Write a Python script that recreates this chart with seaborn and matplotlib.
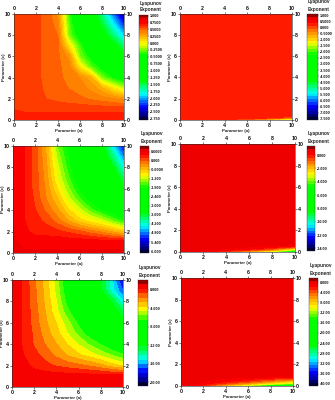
import numpy as np
import matplotlib
matplotlib.use("Agg")
import matplotlib.pyplot as plt
import seaborn as sns
from matplotlib.cm import ScalarMappable
from matplotlib.colors import LinearSegmentedColormap, BoundaryNorm

sns.set_theme(style="ticks")
plt.rcParams["font.family"] = ["Liberation Sans", "DejaVu Sans"]

W, H = 335, 400
A_LEFT = [0, 1, 2, 3, 4, 5, 6, 7, 8, 9, 10]
C_LEFT = [0, 1, 2, 3, 4, 5, 6, 7, 8, 9, 10]
A_RIGHT = [0, 1, 2, 4, 6, 8, 10]
C_RIGHT = [0, 0.1, 0.2, 0.3, 0.4, 0.6, 0.8, 1, 10]

Z1 = [
    [.68, .68, .68, .68, .68, .68, .68, .68, .68, .68, .68],
    [.62, .60, .60, .60, .60, .60, .60, .60, .60, .60, .60],
    [.60, .58, .56, .54, .52, .50, .48, .45, .42, .39, .35],
    [.60, .58, .56, .53, .50, .46, .42, .36, .25, .05, -.15],
    [.60, .58, .56, .52, .48, .44, .38, .25, -.25, -.45, -.60],
    [.60, .58, .56, .52, .48, .42, .05, -.30, -.50, -.75, -1.0],
    [.60, .58, .56, .52, .48, .35, -.25, -.50, -.80, -1.05, -1.3],
    [.60, .58, .56, .52, .48, .05, -.35, -.70, -1.0, -1.3, -1.6],
    [.60, .58, .56, .52, .46, -.25, -.55, -.90, -1.25, -1.6, -1.95],
    [.60, .58, .56, .52, .42, -.30, -.70, -1.05, -1.45, -1.85, -2.25],
    [.60, .58, .56, .52, .35, -.35, -.80, -1.20, -1.65, -2.1, -2.6],
]
Z3 = [
    [.6, .6, .6, .6, .6, .6, .6, .6, .6, .6, .6],
    [.6, .55, .55, .55, .55, .55, .55, .55, .55, .55, .55],
    [.6, .45, .3, .28, .25, .15, .05, -.1, -.25, -.45, -.65],
    [.6, .4, .25, .15, -.1, -.4, -.7, -.9, -1.1, -1.4, -1.7],
    [.6, .4, .2, -.05, -.35, -.75, -1.1, -1.5, -1.8, -2.1, -2.4],
    [.6, .4, .15, -.2, -.55, -1.1, -1.55, -1.95, -2.3, -2.65, -3.0],
    [.6, .4, .1, -.25, -.8, -1.35, -1.85, -2.3, -2.7, -3.1, -3.5],
    [.6, .4, .1, -.3, -1.0, -1.55, -2.1, -2.45, -2.7, -3.2, -3.8],
    [.6, .4, .1, -.35, -1.1, -1.7, -2.2, -2.6, -2.9, -3.5, -4.3],
    [.6, .4, .1, -.4, -1.25, -1.8, -2.25, -2.7, -3.2, -3.9, -4.8],
    [.6, .4, .1, -.45, -1.4, -1.9, -2.3, -2.8, -3.3, -4.4, -5.3],
]
Z5 = [
    [.8, .8, .8, .8, .8, .8, .8, .8, .8, .8, .8],
    [.8, .7, .7, .7, .7, .7, .7, .7, .7, .7, .7],
    [.8, .5, -.1, -.5, -.9, -1.2, -1.5, -1.9, -2.4, -3.2, -3.8],
    [.8, .2, -.5, -1.2, -2.0, -2.8, -3.5, -4.1, -4.9, -5.7, -6.4],
    [.8, .05, -.9, -1.8, -2.7, -3.7, -4.7, -5.7, -6.6, -7.6, -8.6],
    [.8, .05, -1.0, -2.2, -3.3, -4.6, -5.9, -7.2, -8.4, -9.4, -10.4],
    [.8, .05, -1.2, -2.5, -3.7, -5.2, -6.8, -8.2, -9.5, -10.7, -11.8],
    [.8, .05, -1.3, -2.7, -4.3, -6.2, -7.8, -9.1, -10.3, -11.5, -12.8],
    [.8, .05, -1.4, -2.9, -4.6, -7.0, -8.6, -10.0, -11.2, -12.4, -15.0],
    [.8, .05, -1.5, -3.0, -4.9, -7.5, -9.2, -10.8, -12.0, -14.6, -17.0],
    [.8, .05, -1.6, -3.1, -5.1, -7.8, -9.6, -11.0, -12.0, -15.0, -18.5],
]
Z2 = [
    [.25, .25, .15, -.3, -1.0, -2.0, -3.0],
    [.3, .3, .3, .25, .1, -.3, -1.2],
    [.3, .3, .3, .3, .25, .15, -.2],
    [.3, .3, .3, .3, .3, .25, .1],
    [.3, .3, .3, .3, .3, .3, .25],
    [.3, .3, .3, .3, .3, .3, .3],
    [.3, .3, .3, .3, .3, .3, .3],
    [.3, .3, .3, .3, .3, .3, .3],
    [.3, .3, .3, .3, .3, .3, .3],
]
Z4 = [
    [.5, .4, .1, -1.2, -2.8, -4.5, -6.5],
    [.6, .6, .5, -.1, -1.0, -2.5, -5.0],
    [.6, .6, .6, .3, -.2, -1.2, -3.6],
    [.6, .6, .6, .5, .2, -.5, -2.5],
    [.6, .6, .6, .6, .4, 0, -1.0],
    [.6, .6, .6, .6, .6, .5, .45],
    [.6, .6, .6, .6, .6, .6, .6],
    [.6, .6, .6, .6, .6, .6, .6],
    [.6, .6, .6, .6, .6, .6, .6],
]
Z6 = [
    [-.5, -1, -3, -9, -15, -20, -24],
    [0, -.7, -2, -6, -10, -14, -17],
    [0, -.2, -1.5, -4, -7, -10.5, -13],
    [0, 0, -1, -2.8, -5, -8, -10.5],
    [0, 0, -.7, -2, -3.5, -6, -9],
    [0, 0, -.4, -1.2, -2, -3.5, -4.9],
    [0, 0, 0, -.5, -.8, -1.2, -1.8],
    [0, 0, 0, 0, 0, 0, 0],
    [0, 0, 0, 0, 0, 0, 0],
]

CB1 = ["1.000", "0.7500", "0.5000", "0.2500", "0.000", "-0.2500", "-0.5000", "-0.7500", "-1.000",
       "-1.250", "-1.500", "-1.750", "-2.000", "-2.250", "-2.500", "-2.750"]
CB2 = ["1.000", "0.5000", "0.000", "-0.5000", "-1.000", "-1.500", "-2.000", "-2.500", "-3.000", "-3.500",
       "-4.000", "-4.500", "-5.000", "-5.500", "-6.000", "-6.500", "-7.000", "-7.500"]
CB3 = ["0.6000", "0.000", "-0.6000", "-1.200", "-1.800", "-2.400", "-3.000", "-3.600", "-4.200", "-4.800",
       "-5.400", "-6.000"]
CB4 = ["0.000", "-2.000", "-4.000", "-6.000", "-8.000", "-10.00", "-12.00", "-14.00"]
CB5 = ["0.000", "-4.000", "-8.000", "-12.00", "-16.00", "-20.00"]
CB6 = ["0.000", "-4.000", "-8.000", "-12.00", "-16.00", "-20.00", "-24.00", "-28.00", "-32.00", "-36.00", "-40.00"]

cmap = LinearSegmentedColormap.from_list("rb", [
    (0, "#000030"), (.05, "#0000a0"), (.12, "#0000ff"), (.24, "#00ffff"), (.34, "#00ff40"), (.37, "#00ff00"),
    (.62, "#00ff00"), (.73, "#ffff00"), (.85, "#ff8000"), (.93, "#ff0000"), (.97, "#f00000"), (1, "#900000")], N=512)

# plot box and bar box in pixels (x0, x1, y0, y1), bar range, number of bands
panels = [
    (A_LEFT, C_LEFT, Z1, (14, 124, 14, 120), (139, 148, 15, 120), (-2.8, 1.02), CB1, 48),
    (A_RIGHT, C_RIGHT, Z2, (180, 292, 13.5, 120), (307, 318, 14, 120), (-7.6, 1.1), CB2, 36),
    (A_LEFT, C_LEFT, Z3, (13, 124, 146, 253), (140, 149, 146, 253), (-6.13, .98), CB3, 36),
    (A_RIGHT, C_RIGHT, Z4, (180, 295, 144, 252), (307, 315, 146, 251), (-14.4, 1.38), CB4, 36),
    (A_LEFT, C_LEFT, Z5, (12, 123, 280, 387), (138, 148, 280, 386), (-20.85, 2.06), CB5, 24),
    (A_RIGHT, C_RIGHT, Z6, (181, 293, 278, 386), (309, 318, 278, 386), (-40.9, 1.6), CB6, 36),
]

fig = plt.figure(figsize=(W / 100, H / 100), dpi=100)


def rect(x0, x1, y0, y1):
    return [x0 / W, 1 - y1 / H, (x1 - x0) / W, (y1 - y0) / H]


for a, c, z, box, bar, rng, labels, nbands in panels:
    ax = fig.add_axes(rect(*box))
    levels = np.linspace(rng[0], rng[1], nbands + 1)
    norm = BoundaryNorm(levels, cmap.N)
    ax.contourf(a, c, np.array(z), levels=levels, cmap=cmap, norm=norm, extend="both")
    ax.set_xlim(0, 10)
    ax.set_ylim(0, 10)
    sns.despine(ax=ax, top=False, right=False)
    ticks = [0, 2, 4, 6, 8, 10]
    ax.set_xticks(ticks)
    ax.set_yticks(ticks)
    ax.tick_params(top=True, right=True, labeltop=True, labelright=True, labelsize=3.8,
                   length=1.4, width=.4, pad=.7, colors="#111111")
    for t in ax.get_xticklabels() + ax.get_yticklabels():
        t.set_fontweight("bold")
    for s in ax.spines.values():
        s.set_linewidth(.4)
    ax.set_xlabel("Parameter (a)", fontsize=3.2, fontweight="bold", va="center")
    ax.set_ylabel("Parameter (c)", fontsize=3.2, fontweight="bold", va="center")
    ax.xaxis.set_label_coords(.5, -11 / (box[3] - box[2]))
    ax.yaxis.set_label_coords(-10 / (box[1] - box[0]), .5)

    cax = fig.add_axes(rect(*bar))
    cb = fig.colorbar(ScalarMappable(norm=norm, cmap=cmap), cax=cax, spacing="proportional", drawedges=False)
    vals = [float(s) for s in labels]
    cb.set_ticks(vals)
    cb.set_ticklabels(labels)
    cb.ax.minorticks_off()
    cb.ax.tick_params(labelsize=2.7, length=.8, width=.25, pad=.8, colors="#111111")
    cb.outline.set_linewidth(.25)
    for t in cb.ax.get_yticklabels():
        t.set_fontweight("bold")
    fig.text((bar[0] + 1) / W, 1 - (bar[2] - 12) / H, "Lyapunov", fontsize=3.4, fontweight="bold", va="center")
    fig.text((bar[0] + 1) / W, 1 - (bar[2] - 5) / H, "Exponent", fontsize=3.4, fontweight="bold", va="center")

fig.savefig("out.png", dpi=100)
